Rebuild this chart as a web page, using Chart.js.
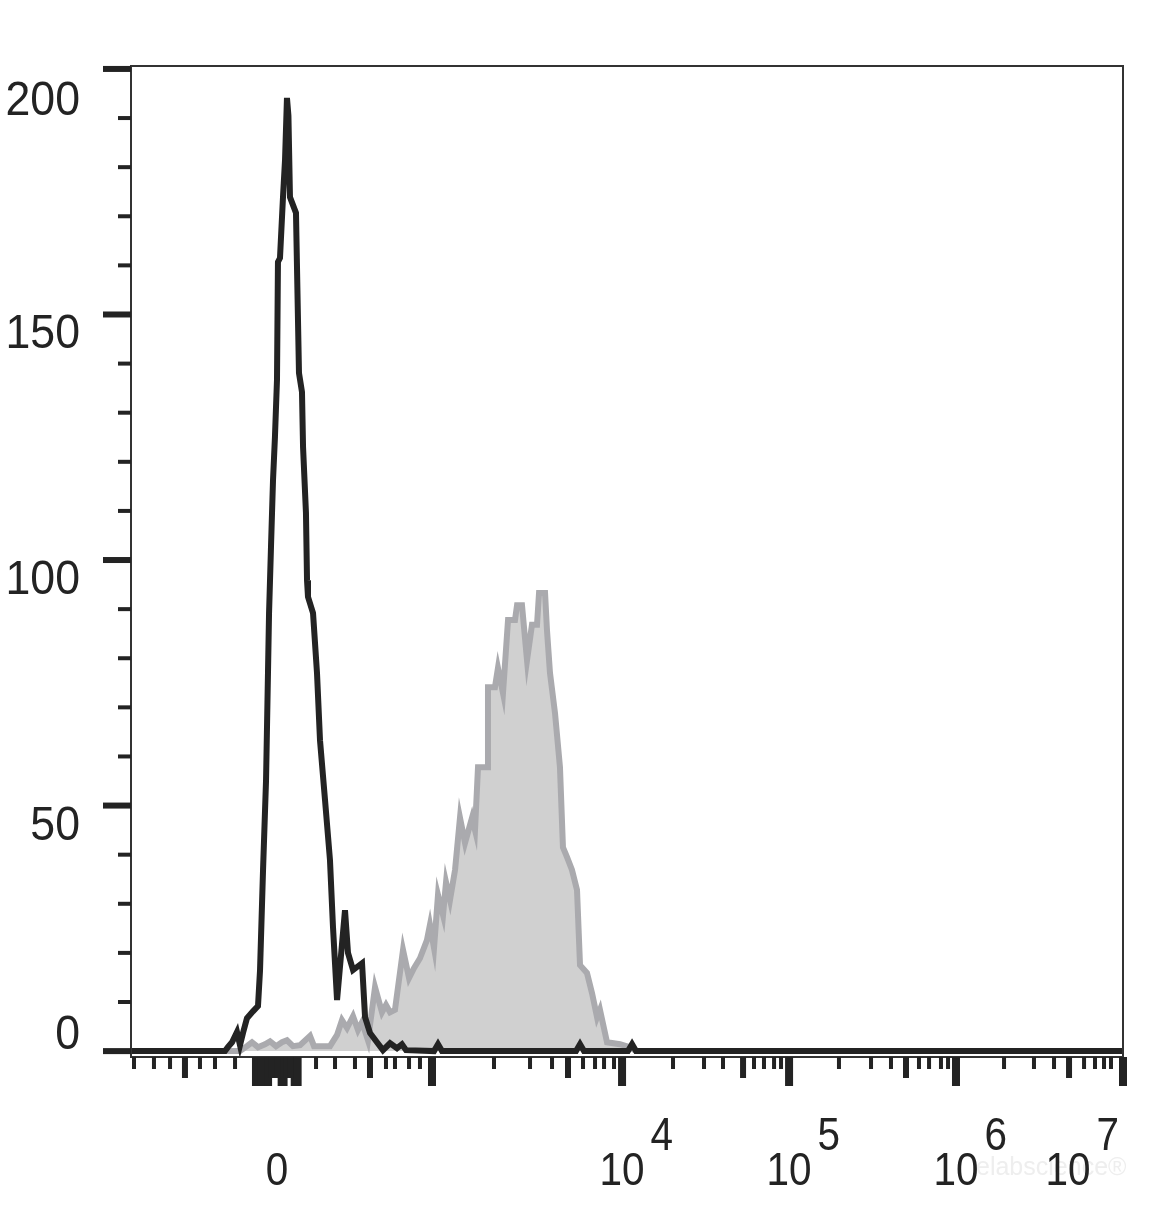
<!DOCTYPE html>
<html>
<head>
<meta charset="utf-8">
<script src="https://cdn.jsdelivr.net/npm/chart.js@4"></script>
<style>
  html, body { margin: 0; padding: 0; background: #fff; }
  canvas { display: block; }
</style>
</head>
<body>
<canvas id="myChart" width="1157" height="1206"></canvas>
<script>
// control (unstained) histogram, black line: channel vs count
const ctrlChannel = [0, 97, 100, 104.3, 109.4, 112.5, 115.6, 119.7, 125.9, 131.1, 133.2, 136.3, 139.4, 141.4, 142.5,
    144.5, 146.6, 148.6, 150.7, 151.7, 153.8, 156.9, 159.0, 161.0, 162.5, 164.1, 170.3, 173.4, 176.5, 177.6,
    180.6, 181.7, 182.7, 187.9, 192.0, 195.1, 200.3, 205.4, 208.5, 212.7, 220.9, 224.0, 229.2, 238.5, 241.6,
    246.7, 253.9, 260.1, 267.4, 274.6, 279.7, 283.9, 312.8, 316.9, 321.0, 459.4, 463.5, 467.6, 513, 517.2, 521.3, 1024]
const ctrlCount = [0, 0, 0.8, 1.8, 3.9, 1.2, 3.7, 6.7, 8.1, 9.2, 16.5, 36.9, 55.2, 77.0, 89.2,
    102.6, 116.3, 125.1, 136.7, 160.7, 161.5, 173.9, 181.5, 194.1, 190.5, 173.9, 170.7, 138.1, 134.2, 123.0,
    109.6, 95.9, 92.5, 89.2, 77.0, 63.3, 51.1, 38.9, 25.3, 10.4, 28.7, 20.0, 16.5, 17.9, 6.9,
    3.7, 1.8, 0.2, 1.6, 0.6, 1.4, 0.2, 0, 1.4, 0, 0, 1.4, 0, 0, 1.4, 0, 0]

// stained histogram, grey filled
const stainChannel = [0, 112.5, 119.7, 124.9, 131.1, 138.3, 143.5, 149.7, 155.9, 161.0, 167.2, 174.5, 184.8, 188.9,
    205.4, 212.7, 217.8, 223.0, 229.2, 234.3, 238.5, 244.6, 251.9, 259.1, 263.2, 267.4, 272.5, 280.8, 287.0,
    292.1, 298.3, 305.5, 308.6, 312.8, 316.9, 322.1, 325.2, 329.3, 334.5, 339.6, 344.8, 352.0, 355.1, 358.2,
    367.5, 368.5, 375.7, 378.8, 384.0, 389.2, 396.4, 398.5, 403.6, 408.8, 413.9, 419.1, 421.2, 427.4, 429.4,
    432.5, 437.7, 442.8, 445.9, 450.1, 455.2, 460.4, 463.5, 470.7, 475.9, 481.1, 484.1, 491.4, 504.8, 515.1, 521.3, 1024]
const stainCount = [0, 0, 1.0, 1.8, 0.8, 1.4, 2.0, 1.0, 1.8, 2.2, 1.0, 1.2, 3.1, 1.0,
    1.0, 3.3, 6.3, 4.7, 7.1, 4.3, 5.9, 2.2, 13.0, 7.9, 9.4, 7.9, 8.4, 20.6, 14.9,
    16.9, 18.9, 22.6, 25.7, 21.0, 31.8, 27.7, 34.4, 30.8, 36.9, 47.5, 42.4, 47.5, 45.0, 57.8,
    57.8, 74.1, 74.1, 78.0, 72.9, 87.8, 87.8, 90.8, 90.8, 79.6, 86.8, 86.8, 93.3, 93.3, 85.7,
    77.0, 68.8, 57.8, 41.5, 39.5, 36.9, 32.8, 17.5, 15.9, 11.8, 6.9, 8.4, 1.8, 1.4, 0.8, 0, 0]

// axis ticks
const yTicks = [0, 50, 100, 150, 200]
const yMinorTicks = [10, 20, 30, 40, 60, 70, 80, 90, 110, 120, 130, 140, 160, 170, 180, 190]
const xMajorTicks = [129, 132, 135, 138, 141.5, 155.5, 157.5, 169, 172, 310.7, 506.9, 679.3, 851.6, 1024]
const xMidTicks = [55.7, 145.5, 148.5, 151.5, 161, 164.5, 246.7, 451.1, 631.8, 800.0, 968.3]
const xMinorTicks = [3.1, 23.7, 40.3, 71.2, 86.7, 107.4, 191.0, 210.6, 231.2, 263.2, 272.5, 287.0, 298.3,
    374.7, 411.9, 434.6, 466.6, 479.0, 488.3, 498.6, 559.5, 591.5, 611.1, 643.1, 653.4, 663.8, 671.0,
    730.8, 763.9, 784.5, 813.4, 823.8, 836.1, 843.4, 901.2, 932.1, 952.8, 983.8, 995.1, 1004.4, 1011.6]
const xLabelAt = [150.7, 506.9, 679.3, 851.6, 1024]
const xLabelBase = ['0', '10', '10', '10', '10']
const xLabelExp = ['', '4', '5', '6', '7']

const ink = '#232323'
const FONT = '"Liberation Sans", Arial, Helvetica, sans-serif'

function squeezedText(ctx, text, x, y, sx) {
    ctx.save()
    ctx.translate(x, y)
    ctx.scale(sx, 1)
    ctx.fillText(text, 0, 0)
    ctx.restore()
}

const axesPlugin = {
    id: 'flowAxes',
    afterDraw(chart) {
        const ctx = chart.ctx
        const a = chart.chartArea
        const xs = chart.scales.x
        const ys = chart.scales.y
        ctx.save()

        // faint watermark
        ctx.fillStyle = '#eeeeee'
        ctx.font = '25px ' + FONT
        ctx.textAlign = 'left'
        ctx.textBaseline = 'alphabetic'
        ctx.fillText('elabscience\u00ae', 976, 1175)

        // frame
        ctx.strokeStyle = '#333'
        ctx.lineWidth = 2
        ctx.strokeRect(a.left, a.top, a.right - a.left, a.bottom - a.top)

        ctx.fillStyle = ink
        // y ticks
        yTicks.forEach(v => {
            const p = ys.getPixelForValue(v)
            ctx.fillRect(a.left - 28, p - 3, 28, 6)
        })
        yMinorTicks.forEach(v => {
            const p = ys.getPixelForValue(v)
            ctx.fillRect(a.left - 13, p - 2, 13, 4)
        })
        // x ticks
        xMajorTicks.forEach(v => {
            const p = xs.getPixelForValue(v)
            ctx.fillRect(p - 4, a.bottom, 8, 29)
        })
        xMidTicks.forEach(v => {
            const p = xs.getPixelForValue(v)
            ctx.fillRect(p - 3, a.bottom, 6, 21)
        })
        xMinorTicks.forEach(v => {
            const p = xs.getPixelForValue(v)
            ctx.fillRect(p - 2, a.bottom, 4, 12)
        })

        // y labels
        ctx.font = '48px ' + FONT
        ctx.textAlign = 'right'
        yTicks.forEach(v => {
            const p = ys.getPixelForValue(v)
            const base = Math.min(Math.max(p + 34, 115), 1049)
            squeezedText(ctx, String(v), 80, base, 0.93)
        })

        // x labels
        ctx.font = '46px ' + FONT
        ctx.textAlign = 'left'
        const sx = 0.88
        xLabelAt.forEach((v, i) => {
            const p = xs.getPixelForValue(v)
            const wb = ctx.measureText(xLabelBase[i]).width * sx
            const we = xLabelExp[i] ? ctx.measureText(xLabelExp[i]).width * sx + 6 : 0
            let left = p - wb / 2
            if (left + wb + we > a.right - 4) left = a.right - 4 - wb - we
            squeezedText(ctx, xLabelBase[i], left, 1185, sx)
            if (xLabelExp[i]) squeezedText(ctx, xLabelExp[i], left + wb + 6, 1150, sx)
        })
        ctx.restore()
    }
}

const data = {
    datasets: [{
        label: 'Control',
        data: ctrlChannel.map((c, i) => ({x: c, y: ctrlCount[i]})),
        borderColor: ink,
        borderWidth: 6,
        backgroundColor: 'rgba(0,0,0,0)',
        fill: false,
        pointRadius: 0,
        tension: 0,
        order: 0
    }, {
        label: 'Stained',
        data: stainChannel.map((c, i) => ({x: c, y: stainCount[i]})),
        borderColor: '#aaaaae',
        borderWidth: 6,
        backgroundColor: '#d0d0d0',
        fill: 'origin',
        pointRadius: 0,
        tension: 0,
        order: 1
    }]
}

const config = {
    type: 'line',
    data: data,
    options: {
        responsive: false,
        animation: false,
        devicePixelRatio: 1,
        layout: {padding: {left: 131, right: 34, top: 66, bottom: 149}},
        scales: {
            x: {type: 'linear', min: 0, max: 1024, display: false},
            y: {type: 'linear', min: -1.2, max: 200.6, display: false}
        },
        plugins: {
            legend: {display: false},
            tooltip: {enabled: false}
        }
    },
    plugins: [axesPlugin]
}
new Chart(document.getElementById('myChart'), config)
</script>
</body>
</html>
